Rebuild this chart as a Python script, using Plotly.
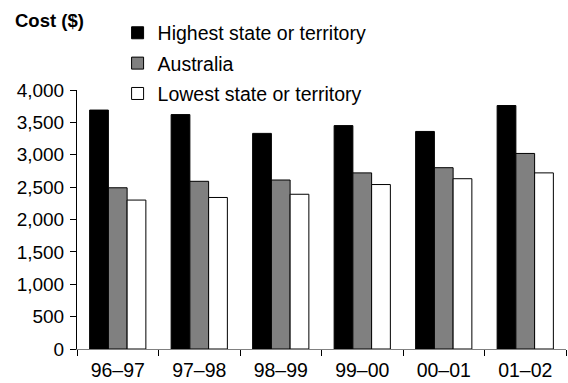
import plotly.graph_objects as go

years = ["96–97", "97–98", "98–99", "99–00", "00–01", "01–02"]
highest = [3690, 3620, 3330, 3450, 3360, 3760]
australia = [2490, 2590, 2610, 2720, 2800, 3020]
lowest = [2300, 2340, 2390, 2540, 2630, 2720]

series = [
    ("Highest state or territory", highest, "#000000"),
    ("Australia", australia, "#808080"),
    ("Lowest state or territory", lowest, "#ffffff"),
]

font = "Liberation Sans, Arial, sans-serif"

fig = go.Figure()
for i, (name, vals, color) in enumerate(series):
    fig.add_trace(go.Bar(
        x=years, y=vals, name=name, legendgroup=f"g{i}",
        marker=dict(color=color, line=dict(color="#000000", width=1)),
    ))

fig.update_layout(
    width=568, height=383,
    margin=dict(l=77, r=2, t=90, b=34),
    paper_bgcolor="white", plot_bgcolor="white",
    font=dict(family=font, size=19, color="#000000"),
    barmode="group", bargap=0.31, bargroupgap=0,
    showlegend=True,
    legend=dict(
        x=0.083, y=1.295, xanchor="left", yanchor="top",
        bgcolor="rgba(0,0,0,0)", font=dict(size=19.5),
        traceorder="grouped", tracegroupgap=2,
    ),
    xaxis=dict(
        showline=True, linecolor="#808080", linewidth=1,
        ticks="outside", tickson="boundaries", ticklen=6, tickcolor="#000000",
        tickfont=dict(size=19.5), ticklabelstandoff=4, showgrid=False,
    ),
    yaxis=dict(
        range=[0, 4000], tickvals=list(range(0, 4001, 500)),
        tickformat=",d",
        showline=True, linecolor="#000000", linewidth=1,
        ticks="outside", ticklen=6, tickcolor="#000000",
        ticklabelstandoff=2,
        showgrid=False, zeroline=False, tickfont=dict(size=19),
    ),
    annotations=[dict(
        text="<b>Cost ($)</b>", xref="paper", yref="paper",
        x=-0.131, y=1.268, xanchor="left", yanchor="middle",
        showarrow=False, font=dict(size=18.5),
    )],
)

fig.write_html("out.html")
